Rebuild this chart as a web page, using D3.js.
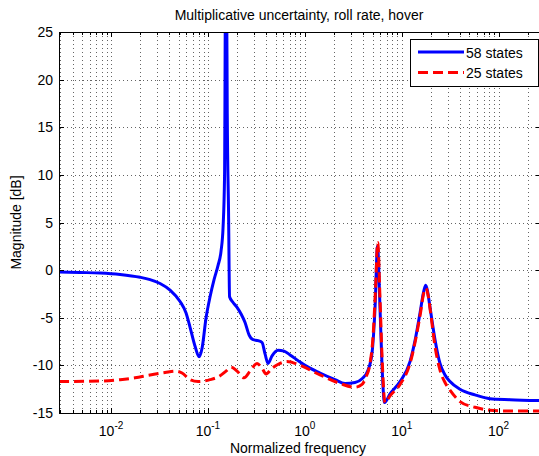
<!DOCTYPE html>
<html>
<head>
<meta charset="utf-8">
<script src="https://cdn.jsdelivr.net/npm/d3@7/dist/d3.min.js"></script>
<style>
  html, body { margin: 0; padding: 0; background: #fff; }
  svg { display: block; font-family: "Liberation Sans", Arial, Helvetica, sans-serif; }
</style>
</head>
<body>
<svg id="chart" width="539" height="456"></svg>
<script>
// Frequency response of the multiplicative uncertainty (dB vs normalized frequency)
const freq58 = [0.002904, 0.004786, 0.0077, 0.01239, 0.01993, 0.02526, 0.03203, 0.04064, 0.05153, 0.05943,
  0.06535, 0.07359, 0.08094, 0.08692, 0.09559, 0.1051, 0.1156, 0.1271, 0.1365, 0.1432,
  0.1484, 0.1519, 0.1556, 0.1582, 0.1632, 0.1671, 0.1816, 0.1997, 0.2196, 0.2415,
  0.2655, 0.2920, 0.3289, 0.3617, 0.3884, 0.4171, 0.4587, 0.5289, 0.6099, 0.7035,
  0.8507, 1.005, 1.435, 2.050, 2.599, 3.297, 3.894, 4.489, 4.937, 5.303,
  5.627, 5.971, 6.261, 6.645, 7.575, 9.605, 12.18, 13.72, 15.45, 16.99,
  17.69, 18.46, 19.59, 22.07, 24.85, 27.99, 31.51, 39.96, 57.06, 81.5,
  131.1, 273.9];
const mag58 = [-0.2, -0.25, -0.3, -0.45, -0.75, -1.0, -1.4, -2.1, -3.3, -4.5,
  -6.0, -8.0, -9.1, -8.2, -5.0, -2.8, -1.0, 0.5, 2.0, 4.5,
  10, 30, 30, 16.5, 6, -2.8, -3.4, -3.9, -4.6, -5.5,
  -6.8, -7.3, -7.4, -7.6, -8.8, -9.8, -9.0, -8.4, -8.5, -8.9,
  -9.5, -10.0, -10.8, -11.5, -11.9, -11.8, -11.4, -10.5, -8.7, -4.0,
  2.5, -4.0, -10.0, -13.9, -13.0, -11.7, -9.6, -7.4, -4.5, -2.1,
  -1.6, -2.2, -3.9, -7.3, -9.8, -11.0, -11.7, -12.5, -13.1, -13.5,
  -13.6, -13.7];

const freq25 = [0.002904, 0.0077, 0.01239, 0.01769, 0.02526, 0.03608, 0.04576, 0.05403, 0.06535, 0.07903,
  0.1051, 0.1333, 0.1537, 0.1732, 0.1997, 0.2358, 0.2720, 0.3211, 0.3617, 0.3978,
  0.4587, 0.5546, 0.6551, 0.8922, 1.435, 2.309, 3.297, 3.894, 4.281, 4.708,
  5.056, 5.366, 5.653, 5.971, 6.261, 6.725, 7.575, 9.605, 12.18, 13.72,
  15.45, 16.99, 17.81, 18.68, 20.06, 22.07, 24.85, 27.99, 31.51, 39.96,
  57.06, 81.5, 131.1, 273.9];
const mag25 = [-11.7, -11.65, -11.5, -11.3, -11.0, -10.75, -10.6, -10.8, -11.5, -11.7,
  -11.5, -11.1, -10.6, -10.2, -10.6, -11.3, -10.6, -9.8, -10.3, -10.9,
  -10.3, -9.8, -9.6, -10.0, -11.0, -11.9, -12.3, -12.0, -11.2, -9.8,
  -7.0, -2.0, 2.9, -3.0, -9.0, -13.9, -13.2, -12.0, -9.8, -7.6,
  -4.8, -2.3, -1.9, -2.6, -4.8, -8.0, -10.5, -11.8, -12.6, -13.8,
  -14.4, -14.7, -14.8, -14.8];

const seriesNames = ["58 states", "25 states"];
const yTicks = [-15, -10, -5, 0, 5, 10, 15, 20, 25];
const xMajorTicks = [0.01, 0.1, 1, 10, 100];
const xTickExponents = ["-2", "-1", "0", "1", "2"];
const freqDomain = [0.0029, 274];
const magDomain = [-15, 25];

const titleText = "Multiplicative uncertainty, roll rate, hover";
const xLabelText = "Normalized frequency";
const yLabelText = "Magnitude [dB]";

const svg = d3.select("#chart");
const plotL = 59, plotR = 541, plotT = 32, plotB = 413;
const fontSize = 14;

const x = d3.scaleLog().domain(freqDomain).range([plotL, plotR]);
const y = d3.scaleLinear().domain(magDomain).range([plotB, plotT]);

// minor (and major) decade positions for the log grid
const xAllTicks = [];
for (let e = -3; e <= 2; e++) {
  for (let m = 1; m <= 9; m++) {
    const v = m * Math.pow(10, e);
    if (v >= freqDomain[0] && v <= freqDomain[1]) xAllTicks.push(v);
  }
}

svg.append("rect").attr("x", plotL).attr("y", plotT)
  .attr("width", plotR - plotL).attr("height", plotB - plotT).attr("fill", "#fff");

svg.append("defs").append("clipPath").attr("id", "plotClip")
  .append("rect").attr("x", plotL).attr("y", plotT)
  .attr("width", plotR - plotL).attr("height", plotB - plotT);

// dotted grid
const grid = svg.append("g").attr("stroke", "#000").attr("stroke-width", 1)
  .attr("stroke-dasharray", "1,3").attr("opacity", 0.6);
grid.selectAll("line.gx").data(xAllTicks).join("line")
  .attr("class", "gx")
  .attr("x1", d => Math.round(x(d)) + 0.5).attr("x2", d => Math.round(x(d)) + 0.5)
  .attr("y1", plotT).attr("y2", plotB);
grid.selectAll("line.gy").data(yTicks.slice(1, -1)).join("line")
  .attr("class", "gy")
  .attr("x1", plotL).attr("x2", plotR)
  .attr("y1", d => Math.round(y(d)) + 0.5).attr("y2", d => Math.round(y(d)) + 0.5);

// curves
const line = d3.line()
  .x(d => x(d[0])).y(d => y(d[1]))
  .curve(d3.curveMonotoneX);

const plot = svg.append("g").attr("clip-path", "url(#plotClip)");
plot.append("path")
  .datum(d3.zip(freq58, mag58))
  .attr("d", line)
  .attr("fill", "none").attr("stroke", "#0000ff")
  .attr("stroke-width", 3).attr("stroke-linejoin", "round");
plot.append("path")
  .datum(d3.zip(freq25, mag25))
  .attr("d", line)
  .attr("fill", "none").attr("stroke", "#ff0000")
  .attr("stroke-width", 3).attr("stroke-dasharray", "10,5");

// axes frame and inward ticks
const isMajor = v => xMajorTicks.some(t => Math.abs(t - v) / t < 1e-6);
const axisG = svg.append("g").attr("stroke", "#000").attr("stroke-width", 1);
axisG.append("rect").attr("x", plotL + 0.5).attr("y", plotT + 0.5)
  .attr("width", plotR - plotL).attr("height", plotB - plotT).attr("fill", "none");
xAllTicks.forEach(v => {
  const px = Math.round(x(v)) + 0.5;
  const len = isMajor(v) ? 5 : 3;
  axisG.append("line").attr("x1", px).attr("x2", px).attr("y1", plotB).attr("y2", plotB - len);
  axisG.append("line").attr("x1", px).attr("x2", px).attr("y1", plotT).attr("y2", plotT + len);
});
yTicks.forEach(v => {
  const py = Math.round(y(v)) + 0.5;
  axisG.append("line").attr("x1", plotL).attr("x2", plotL + 5).attr("y1", py).attr("y2", py);
  axisG.append("line").attr("x1", plotR).attr("x2", plotR - 5).attr("y1", py).attr("y2", py);
});

// tick labels
svg.append("g").selectAll("text").data(yTicks).join("text")
  .attr("x", plotL - 6).attr("y", d => y(d) + 5)
  .attr("text-anchor", "end").attr("font-size", fontSize).attr("fill", "#000")
  .text(d => d);

const xl = svg.append("g").selectAll("text").data(xMajorTicks).join("text")
  .attr("x", d => x(d)).attr("y", 436)
  .attr("text-anchor", "middle").attr("font-size", fontSize).attr("fill", "#000");
xl.append("tspan").text("10");
xl.append("tspan").attr("dy", -7).attr("font-size", 10)
  .text((d, i) => xTickExponents[i]);

// titles
svg.append("text").attr("x", 299).attr("y", 20)
  .attr("text-anchor", "middle").attr("font-size", fontSize).text(titleText);
svg.append("text").attr("x", 298).attr("y", 453)
  .attr("text-anchor", "middle").attr("font-size", fontSize).text(xLabelText);
svg.append("text").attr("transform", `translate(21,${(plotT + plotB) / 2}) rotate(-90)`)
  .attr("text-anchor", "middle").attr("font-size", fontSize).text(yLabelText);

// legend
const lg = svg.append("g");
lg.append("rect").attr("x", 410.5).attr("y", 39.5).attr("width", 128).attr("height", 47)
  .attr("fill", "#fff").attr("stroke", "#000").attr("stroke-width", 1);
const legendRows = [
  { name: seriesNames[0], color: "#0000ff", dash: null, yy: 52 },
  { name: seriesNames[1], color: "#ff0000", dash: "10,5", yy: 72.5 }
];
legendRows.forEach(r => {
  lg.append("line").attr("x1", 418).attr("x2", 464).attr("y1", r.yy).attr("y2", r.yy)
    .attr("stroke", r.color).attr("stroke-width", 3)
    .attr("stroke-dasharray", r.dash);
  lg.append("text").attr("x", 466).attr("y", r.yy + 5.5).attr("font-size", fontSize).text(r.name);
});
</script>
</body>
</html>
